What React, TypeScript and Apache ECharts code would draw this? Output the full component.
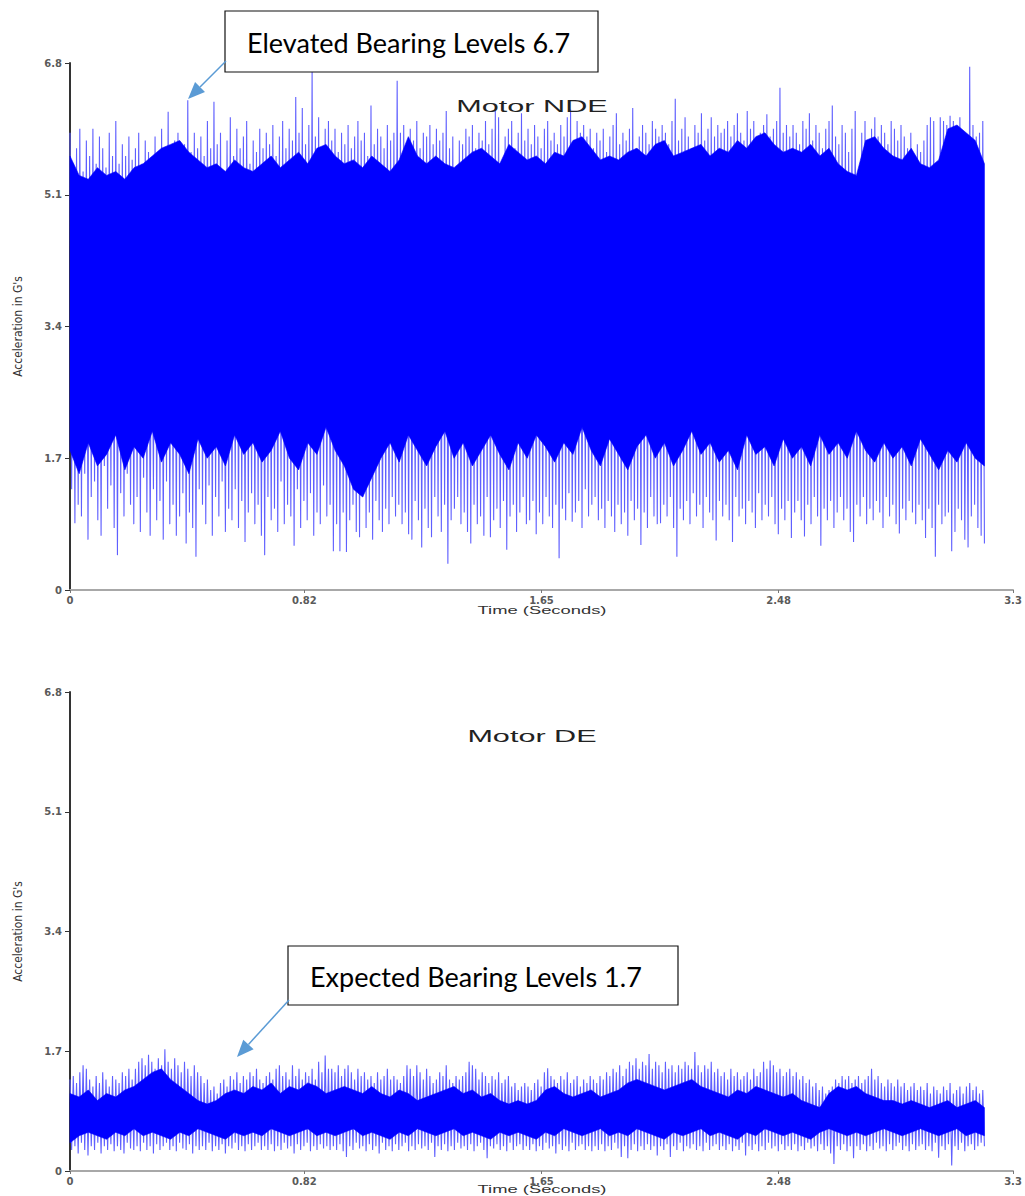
import React, { useEffect, useRef } from "react";
import * as echarts from "echarts";

// ---------------- axis definitions ----------------
const timeTicks = [0, 0.82, 1.65, 2.48, 3.3];
const timeMax = 3.3;
const accelMax = 6.8;
const accelStep = 1.7;
const recordLength = 3.2; // seconds of recorded waveform

// ---------------- Motor NDE (top) ----------------
// local maxima of the waveform (successive swings)
const ndePeaks = [
  5.9, 5.5, 5.7, 5.95, 5.4, 5.8, 5.6, 5.95, 5.5, 5.85, 5.7, 5.45, 5.9, 5.6, 6.05, 5.5, 5.75, 5.6, 5.85, 5.55,
  5.7, 5.9, 5.5, 5.8, 5.65, 4.5, 5.85, 5.6, 5.95, 5.7, 6.17, 5.6, 5.8, 5.9, 5.5, 5.75, 6.32, 5.65, 5.9, 5.7,
  5.85, 5.6, 6.05, 5.7, 6.3, 5.75, 5.9, 4.4, 5.8, 6.1, 5.6, 5.95, 5.7, 5.85, 6.05, 5.5, 5.8, 5.65, 5.95, 5.7,
  5.9, 5.75, 6.0, 5.6, 5.85, 6.05, 5.7, 5.95, 5.8, 6.36, 5.9, 6.22, 5.75, 6.0, 6.7, 5.85, 6.1, 5.7, 5.95, 6.05,
  5.8, 5.95, 5.65, 5.9, 5.75, 6.0, 5.7, 5.85, 6.05, 5.8, 5.9, 5.6, 6.25, 5.75, 5.95, 5.85, 5.7, 6.0, 5.8, 5.9,
  6.57, 5.9, 6.0, 5.75, 5.95, 5.8, 6.05, 5.7, 5.9, 5.85, 6.0, 5.75, 5.95, 5.8, 5.9, 6.18, 5.7, 5.85, 4.5, 5.8,
  5.75, 5.95, 5.85, 6.0, 5.7, 5.9, 5.8, 6.05, 5.75, 5.95, 6.18, 6.1, 4.6, 5.85, 5.95, 6.05, 5.7, 5.9, 6.15, 5.8,
  5.95, 5.75, 6.0, 5.85, 5.7, 5.95, 6.05, 5.8, 5.9, 5.75, 6.0, 5.85, 6.1, 6.2, 4.5, 6.05, 5.9, 6.0, 5.85, 5.95,
  5.7, 5.9, 5.8, 5.95, 5.65, 5.85, 6.0, 6.15, 5.75, 5.9, 5.8, 5.95, 6.22, 5.7, 5.85, 6.0, 5.9, 5.75, 6.05, 5.95,
  5.85, 6.0, 5.9, 5.75, 6.05, 6.34, 5.8, 5.95, 6.1, 5.85, 5.7, 6.0, 5.9, 6.15, 5.8, 5.95, 6.1, 5.85, 6.0, 5.9,
  5.95, 6.05, 5.85, 6.0, 6.15, 5.9, 5.8, 6.18, 5.95, 6.05, 4.4, 5.9, 6.0, 6.14, 5.85, 5.95, 6.05, 6.48, 5.9, 6.0,
  5.85, 6.0, 5.9, 5.75, 6.05, 5.95, 6.15, 5.8, 6.0, 5.9, 5.7, 5.95, 6.05, 6.25, 5.85, 5.75, 6.0, 5.9, 5.65, 5.95,
  6.18, 4.2, 5.9, 6.05, 5.8, 5.95, 6.1, 5.85, 6.0, 5.9, 5.75, 6.05, 5.95, 5.8, 6.0, 5.85, 5.7, 5.9, 5.6, 5.75,
  5.65, 5.8, 6.0, 6.1, 6.05, 3.9, 6.1, 6.05, 6.0, 6.12, 6.05, 5.95, 6.1, 5.9, 3.9, 6.75, 6.0, 5.85, 5.9, 6.05,
];
// local minima following each peak
const ndeTroughs = [
  1.3, 0.86, 1.1, 0.95, 1.5, 0.65, 1.2, 1.4, 0.9, 0.7, 1.6, 1.05, 1.35, 0.8, 0.45, 1.25, 0.95, 1.5, 1.1, 0.85,
  1.2, 0.75, 1.45, 1.0, 0.7, 1.3, 0.9, 1.15, 0.65, 1.4, 0.85, 1.1, 0.7, 0.95, 1.25, 0.6, 1.0, 0.8, 0.43, 1.3,
  1.1, 0.85, 1.35, 0.7, 1.2, 0.95, 1.4, 0.75, 1.05, 0.9, 1.3, 0.8, 1.15, 0.62, 1.0, 1.25, 0.85, 1.1, 0.7, 0.45,
  1.2, 0.9, 1.05, 0.75, 1.4, 0.85, 1.1, 0.95, 0.57, 1.3, 0.8, 1.15, 0.9, 1.25, 0.7, 1.0, 0.85, 1.35, 0.95, 1.1,
  0.5, 0.85, 0.5, 1.0, 0.49, 0.9, 1.1, 0.75, 0.68, 1.2, 0.8, 1.0, 0.65, 1.15, 0.9, 0.75, 1.05, 0.85, 1.2, 0.95,
  1.1, 0.85, 1.0, 0.72, 0.65, 1.15, 0.9, 0.55, 1.05, 0.8, 0.68, 1.2, 0.95, 0.75, 1.1, 0.34, 0.9, 1.05, 1.2, 0.85,
  1.0, 0.75, 0.6, 1.1, 0.85, 0.95, 0.7, 1.2, 0.68, 0.9, 1.05, 0.8, 1.15, 0.52, 0.95, 1.1, 0.75, 1.0, 1.2, 0.85,
  0.9, 1.15, 0.72, 1.0, 0.85, 1.2, 0.95, 0.8, 1.1, 0.41, 1.05, 0.9, 1.25, 0.88, 1.0, 1.15, 0.8, 1.3, 0.95, 1.1,
  1.2, 0.9, 1.05, 0.8, 1.15, 0.95, 0.75, 1.1, 0.85, 1.0, 0.7, 1.15, 0.9, 1.05, 0.58, 1.0, 0.8, 1.2, 0.95, 0.85,
  0.86, 1.1, 0.95, 1.2, 0.8, 0.43, 1.05, 0.9, 1.15, 0.85, 1.25, 0.95, 1.1, 0.8, 1.2, 1.0, 0.9, 0.64, 1.15, 0.95,
  1.1, 0.9, 0.62, 1.2, 0.95, 1.05, 0.85, 1.15, 1.0, 0.8, 1.25, 0.9, 1.1, 0.95, 1.2, 0.85, 0.72, 1.05, 0.9, 1.15,
  0.67, 1.0, 1.15, 0.9, 0.69, 1.1, 0.85, 1.2, 0.95, 0.57, 1.05, 0.9, 1.15, 0.8, 1.0, 1.2, 0.9, 1.05, 0.75, 0.62,
  1.1, 0.95, 1.2, 0.85, 1.05, 0.9, 1.15, 1.0, 0.8, 1.2, 0.95, 1.1, 0.85, 0.73, 1.05, 0.9, 1.15, 1.0, 0.85, 1.1,
  0.9, 0.67, 1.05, 0.8, 0.43, 1.1, 0.85, 0.95, 1.0, 0.5, 0.75, 1.05, 0.9, 0.65, 0.55, 0.95, 1.1, 0.8, 0.7, 0.6,
];
// upper / lower edge of the dense (solid) part of the waveform
const ndeBodyTop = [
  5.6, 5.35, 5.3, 5.45, 5.35, 5.4, 5.3, 5.45, 5.5, 5.6,
  5.7, 5.75, 5.8, 5.65, 5.55, 5.45, 5.5, 5.4, 5.55, 5.45,
  5.4, 5.5, 5.6, 5.45, 5.55, 5.65, 5.5, 5.7, 5.75, 5.6,
  5.5, 5.55, 5.45, 5.6, 5.5, 5.4, 5.55, 5.85, 5.6, 5.5,
  5.6, 5.5, 5.45, 5.55, 5.65, 5.7, 5.6, 5.5, 5.75, 5.65,
  5.55, 5.6, 5.5, 5.65, 5.6, 5.8, 5.85, 5.7, 5.55, 5.6,
  5.55, 5.65, 5.7, 5.6, 5.75, 5.8, 5.6, 5.65, 5.7, 5.75,
  5.6, 5.7, 5.65, 5.8, 5.7, 5.85, 5.9, 5.75, 5.65, 5.7,
  5.65, 5.75, 5.6, 5.7, 5.5, 5.4, 5.35, 5.8, 5.85, 5.7,
  5.6, 5.55, 5.7, 5.5, 5.45, 5.55, 5.95, 6.0, 5.9, 5.8, 5.5,
];
const ndeBodyBottom = [
  1.8, 1.5, 1.9, 1.6, 1.75, 2.0, 1.55, 1.85, 1.7, 2.05,
  1.65, 1.9, 1.75, 1.5, 1.95, 1.7, 1.85, 1.6, 2.0, 1.75,
  1.9, 1.65, 1.8, 2.05, 1.7, 1.55, 1.9, 1.75, 2.1, 1.8,
  1.6, 1.3, 1.2, 1.45, 1.7, 1.9, 1.65, 2.0, 1.8, 1.6,
  1.85, 2.05, 1.7, 1.9, 1.6, 1.8, 2.0, 1.75, 1.55, 1.9,
  1.7, 2.0, 1.85, 1.65, 1.9, 1.75, 2.1, 1.8, 1.6, 1.95,
  1.75, 1.55, 1.85, 2.0, 1.7, 1.9, 1.6, 1.8, 2.05, 1.75,
  1.9, 1.65, 1.8, 1.55, 2.0, 1.75, 1.85, 1.6, 1.95, 1.7,
  1.85, 1.6, 2.0, 1.75, 1.9, 1.7, 2.05, 1.8, 1.65, 1.9,
  1.7, 1.85, 1.6, 1.95, 1.75, 1.55, 1.8, 1.65, 1.9, 1.7, 1.6,
];

// ---------------- Motor DE (bottom) ----------------
const dePeaks = [
  1.3, 1.35, 1.25, 1.4, 1.5, 1.45, 1.3, 1.2, 1.35, 1.25, 1.4, 1.3, 1.2, 1.35, 1.3, 1.25, 1.4, 1.35, 1.45, 1.3,
  1.45, 1.55, 1.6, 1.5, 1.65, 1.55, 1.45, 1.6, 1.5, 1.73, 1.55, 1.45, 1.6, 1.5, 1.4, 1.55, 1.45, 1.35, 1.5, 1.4,
  1.35, 1.25, 1.3, 1.15, 1.2, 1.1, 1.25, 1.3, 1.2, 1.35, 1.3, 1.4, 1.25, 1.35, 1.3, 1.4, 1.35, 1.45, 1.3, 1.25,
  1.35, 1.4, 1.3, 1.45, 1.5, 1.35, 1.4, 1.3, 1.5, 1.35, 1.45, 1.3, 1.4, 1.35, 1.45, 1.3, 1.55, 1.4, 1.64, 1.45,
  1.45, 1.4, 1.5, 1.35, 1.45, 1.5, 1.4, 1.3, 1.45, 1.35, 1.4, 1.3, 1.35, 1.25, 1.4, 1.3, 1.35, 1.45, 1.3, 1.35,
  1.3, 1.25, 1.35, 1.5, 1.45, 1.35, 1.5, 1.4, 1.3, 1.45, 1.35, 1.25, 1.3, 1.4, 1.35, 1.5, 1.3, 1.25, 1.35, 1.3,
  1.35, 1.4, 1.55, 1.5, 1.45, 1.3, 1.4, 1.35, 1.25, 1.35, 1.3, 1.4, 1.25, 1.3, 1.35, 1.2, 1.25, 1.15, 1.2, 1.25,
  1.2, 1.15, 1.25, 1.3, 1.2, 1.4, 1.46, 1.35, 1.3, 1.25, 1.35, 1.3, 1.4, 1.25, 1.3, 1.35, 1.2, 1.3, 1.25, 1.35,
  1.3, 1.25, 1.35, 1.3, 1.4, 1.35, 1.45, 1.4, 1.5, 1.35, 1.45, 1.55, 1.5, 1.6, 1.45, 1.55, 1.5, 1.66, 1.45, 1.55,
  1.5, 1.4, 1.55, 1.45, 1.5, 1.4, 1.5, 1.45, 1.55, 1.5, 1.45, 1.69, 1.5, 1.4, 1.5, 1.45, 1.55, 1.4, 1.45, 1.35,
  1.4, 1.3, 1.45, 1.35, 1.4, 1.3, 1.35, 1.4, 1.3, 1.45, 1.35, 1.4, 1.55, 1.45, 1.57, 1.5, 1.4, 1.45, 1.35, 1.4,
  1.45, 1.35, 1.4, 1.3, 1.35, 1.25, 1.3, 1.2, 1.25, 1.15, 1.2, 1.1, 1.15, 1.2, 1.3, 1.25, 1.35, 1.3, 1.35, 1.25,
  1.3, 1.35, 1.25, 1.3, 1.35, 1.45, 1.3, 1.35, 1.25, 1.2, 1.3, 1.25, 1.2, 1.3, 1.2, 1.25, 1.15, 1.2, 1.25, 1.15,
  1.2, 1.15, 1.25, 1.1, 1.2, 1.15, 1.1, 1.2, 1.15, 1.25, 1.1, 1.15, 1.2, 1.1, 1.2, 1.25, 1.15, 1.2, 1.1, 1.15,
];
const deTroughs = [
  0.3, 0.35, 0.25, 0.4, 0.3, 0.22, 0.35, 0.3, 0.4, 0.25, 0.35, 0.3, 0.38, 0.28, 0.35, 0.3, 0.25, 0.4, 0.32, 0.3,
  0.35, 0.28, 0.4, 0.3, 0.35, 0.25, 0.38, 0.3, 0.35, 0.4, 0.3, 0.35, 0.28, 0.4, 0.32, 0.3, 0.38, 0.25, 0.35, 0.3,
  0.35, 0.3, 0.4, 0.28, 0.35, 0.3, 0.38, 0.25, 0.35, 0.32, 0.4, 0.3, 0.35, 0.28, 0.38, 0.3, 0.35, 0.4, 0.3, 0.35,
  0.3, 0.38, 0.28, 0.35, 0.3, 0.4, 0.32, 0.35, 0.25, 0.38, 0.3, 0.35, 0.4, 0.28, 0.35, 0.3, 0.38, 0.32, 0.35, 0.3,
  0.35, 0.3, 0.38, 0.28, 0.2, 0.35, 0.3, 0.4, 0.32, 0.35, 0.28, 0.38, 0.3, 0.35, 0.25, 0.4, 0.3, 0.35, 0.28, 0.38,
  0.3, 0.35, 0.4, 0.28, 0.35, 0.3, 0.38, 0.32, 0.35, 0.3, 0.4, 0.2, 0.35, 0.3, 0.38, 0.28, 0.35, 0.3, 0.4, 0.32,
  0.35, 0.3, 0.38, 0.28, 0.35, 0.4, 0.3, 0.18, 0.35, 0.32, 0.38, 0.3, 0.35, 0.28, 0.4, 0.3, 0.35, 0.38, 0.3, 0.35,
  0.3, 0.38, 0.28, 0.35, 0.3, 0.4, 0.32, 0.35, 0.25, 0.38, 0.3, 0.35, 0.28, 0.4, 0.3, 0.35, 0.38, 0.3, 0.35, 0.28,
  0.35, 0.3, 0.38, 0.28, 0.35, 0.3, 0.4, 0.32, 0.2, 0.35, 0.18, 0.3, 0.38, 0.28, 0.35, 0.3, 0.38, 0.3, 0.35, 0.22,
  0.35, 0.3, 0.38, 0.2, 0.35, 0.3, 0.4, 0.28, 0.35, 0.32, 0.38, 0.3, 0.35, 0.28, 0.4, 0.3, 0.35, 0.38, 0.3, 0.35,
  0.3, 0.38, 0.28, 0.35, 0.3, 0.4, 0.22, 0.35, 0.3, 0.38, 0.28, 0.35, 0.3, 0.4, 0.32, 0.35, 0.28, 0.38, 0.3, 0.35,
  0.3, 0.38, 0.28, 0.35, 0.3, 0.4, 0.32, 0.35, 0.28, 0.38, 0.3, 0.35, 0.25, 0.1, 0.35, 0.3, 0.38, 0.28, 0.35, 0.18,
  0.35, 0.3, 0.38, 0.28, 0.35, 0.3, 0.4, 0.32, 0.35, 0.28, 0.38, 0.3, 0.35, 0.4, 0.3, 0.35, 0.28, 0.38, 0.3, 0.35,
  0.38, 0.3, 0.35, 0.28, 0.4, 0.19, 0.35, 0.3, 0.38, 0.08, 0.35, 0.3, 0.4, 0.28, 0.35, 0.38, 0.3, 0.35, 0.4, 0.35,
];
const deBodyTop = [
  1.1, 1.05, 1.15, 1.0, 1.1, 1.05, 1.15, 1.2, 1.3, 1.4,
  1.45, 1.3, 1.2, 1.1, 1.0, 0.95, 1.0, 1.1, 1.15, 1.1,
  1.2, 1.15, 1.25, 1.1, 1.2, 1.15, 1.25, 1.2, 1.1, 1.15,
  1.2, 1.15, 1.1, 1.2, 1.1, 1.05, 1.15, 1.1, 1.0, 1.05,
  1.1, 1.15, 1.2, 1.1, 1.15, 1.05, 1.1, 1.0, 0.95, 1.0,
  0.95, 1.0, 1.15, 1.2, 1.1, 1.05, 1.1, 1.15, 1.05, 1.1,
  1.15, 1.25, 1.3, 1.25, 1.2, 1.15, 1.2, 1.25, 1.3, 1.2,
  1.15, 1.1, 1.05, 1.15, 1.1, 1.2, 1.15, 1.1, 1.05, 1.1,
  1.0, 0.95, 0.9, 1.1, 1.2, 1.15, 1.2, 1.1, 1.05, 1.0,
  1.0, 0.95, 1.0, 0.95, 0.9, 0.95, 1.0, 0.9, 0.95, 1.0, 0.9,
];
const deBodyBottom = [
  0.4, 0.5, 0.55, 0.5, 0.45, 0.55, 0.5, 0.6, 0.5, 0.55,
  0.5, 0.45, 0.55, 0.5, 0.6, 0.55, 0.5, 0.45, 0.55, 0.5,
  0.55, 0.5, 0.6, 0.55, 0.5, 0.55, 0.6, 0.5, 0.55, 0.5,
  0.55, 0.6, 0.5, 0.55, 0.5, 0.45, 0.55, 0.5, 0.6, 0.55,
  0.5, 0.55, 0.6, 0.5, 0.55, 0.5, 0.45, 0.55, 0.5, 0.55,
  0.5, 0.45, 0.55, 0.5, 0.6, 0.55, 0.5, 0.55, 0.6, 0.5,
  0.55, 0.5, 0.6, 0.55, 0.5, 0.45, 0.55, 0.5, 0.55, 0.6,
  0.5, 0.55, 0.5, 0.45, 0.55, 0.5, 0.6, 0.55, 0.5, 0.55,
  0.5, 0.45, 0.55, 0.6, 0.55, 0.5, 0.55, 0.5, 0.55, 0.6,
  0.55, 0.5, 0.55, 0.6, 0.55, 0.5, 0.55, 0.6, 0.5, 0.55, 0.5,
];

// ---------------- texts ----------------
const chartTitles = ["Motor NDE", "Motor DE"];
const xAxisTitle = "Time (Seconds)";
const yAxisTitle = "Acceleration in G's";
const notes = ["Elevated Bearing Levels 6.7", "Expected Bearing Levels 1.7"];

// ---------------- helpers ----------------
function waveform(peaks: number[], troughs: number[]) {
  const vals: number[] = [];
  peaks.forEach((p, i) => {
    vals.push(p);
    vals.push(troughs[i]);
  });
  const dt = recordLength / (vals.length - 1);
  return vals.map((v, k) => [k * dt, v]);
}
function bodyRows(bottom: number[], top: number[]) {
  const dt = recordLength / (top.length - 1);
  return top.map((v, j) => [j * dt, bottom[j], v]);
}

const grids = [
  { left: 70, top: 63, width: 943, height: 527 },
  { left: 70, top: 692, width: 943, height: 479 },
];

function xAxis(gridIndex: number) {
  return {
    type: "value",
    gridIndex,
    min: 0,
    max: timeMax,
    axisLine: { show: true, onZero: false, lineStyle: { color: "#a8a8a8", width: 2 } },
    axisTick: { show: true, customValues: timeTicks, length: 3, lineStyle: { color: "#777" } },
    axisLabel: {
      customValues: timeTicks,
      margin: 5,
      color: "#5a5a5a",
      fontSize: 10,
      fontWeight: "bold",
      fontFamily: "DejaVu Sans",
      showMaxLabel: true,
      showMinLabel: true,
    },
    splitLine: { show: false },
  };
}
function yAxis(gridIndex: number) {
  return {
    type: "value",
    gridIndex,
    min: 0,
    max: accelMax,
    interval: accelStep,
    name: yAxisTitle,
    nameLocation: "middle",
    nameGap: 46,
    nameRotate: 90,
    nameTextStyle: { fontSize: 12, color: "#333", fontFamily: "Liberation Sans Narrow, DejaVu Sans Condensed, sans-serif" },
    axisLine: { show: true, lineStyle: { color: "#333", width: 2 } },
    axisTick: { show: true, length: 5, lineStyle: { color: "#333" } },
    axisLabel: { margin: 8, color: "#5a5a5a", fontSize: 10, fontWeight: "bold", fontFamily: "DejaVu Sans" },
    splitLine: { show: false },
  };
}

function chartSeries(g: number, peaks: number[], troughs: number[], top: number[], bottom: number[]) {
  const rows = bodyRows(bottom, top);
  return [
    {
      type: "line",
      xAxisIndex: g,
      yAxisIndex: g,
      data: waveform(peaks, troughs),
      symbol: "none",
      showSymbol: false,
      silent: true,
      z: 2,
      lineStyle: { color: "#5f5fff", width: 1.1 },
    },
    {
      type: "custom",
      xAxisIndex: g,
      yAxisIndex: g,
      data: rows,
      encode: { x: 0, y: [1, 2] },
      silent: true,
      z: 3,
      renderItem: (params: any, api: any) => {
        if (params.dataIndex !== 0) return null;
        const pts: number[][] = [];
        for (let j = 0; j < rows.length; j++) pts.push(api.coord([rows[j][0], rows[j][2]]));
        for (let j = rows.length - 1; j >= 0; j--) pts.push(api.coord([rows[j][0], rows[j][1]]));
        return {
          type: "polygon",
          shape: { points: pts },
          style: { fill: "#0000ff", stroke: "#0000ff", lineWidth: 0.6 },
        };
      },
    },
  ];
}

function arrow(x1: number, y1: number, x2: number, y2: number) {
  const dx = x2 - x1;
  const dy = y2 - y1;
  const len = Math.sqrt(dx * dx + dy * dy);
  const ux = dx / len;
  const uy = dy / len;
  const headLen = 17;
  const headHalf = 7;
  const bx = x2 - ux * headLen;
  const by = y2 - uy * headLen;
  const color = "#5b9bd5";
  return [
    { type: "line", shape: { x1, y1, x2: bx, y2: by }, style: { stroke: color, lineWidth: 1.5 }, z: 10 },
    {
      type: "polygon",
      shape: {
        points: [
          [x2, y2],
          [bx - uy * headHalf, by + ux * headHalf],
          [bx + uy * headHalf, by - ux * headHalf],
        ],
      },
      style: { fill: color },
      z: 10,
    },
  ];
}

function noteBox(x: number, y: number, w: number, h: number, text: string, tx: number) {
  return [
    { type: "rect", shape: { x, y, width: w, height: h }, style: { fill: "#fff", stroke: "#111", lineWidth: 1.2 }, z: 10 },
    {
      type: "text",
      x: tx,
      y: y + h / 2 + 1,
      style: { text, fontSize: 27, fontFamily: "Lato, Carlito, sans-serif", fill: "#000", verticalAlign: "middle", align: "left" },
      z: 11,
    },
  ];
}

function stretchedText(text: string, cx: number, cy: number, size: number, scaleX: number, color: string) {
  return {
    type: "text",
    x: cx,
    y: cy,
    scaleX,
    style: { text, fontSize: size, fontFamily: "Liberation Sans, Arial, sans-serif", fill: color, align: "center", verticalAlign: "middle" },
    z: 5,
  };
}

export default function App() {
  const ref = useRef<HTMLDivElement>(null);
  useEffect(() => {
    document.body.style.margin = "0";
    const chart = echarts.init(ref.current as HTMLDivElement, null, { renderer: "svg" });
    const option = {
      animation: false,
      backgroundColor: "#ffffff",
      grid: grids,
      xAxis: [xAxis(0), xAxis(1)],
      yAxis: [yAxis(0), yAxis(1)],
      series: [
        ...chartSeries(0, ndePeaks, ndeTroughs, ndeBodyTop, ndeBodyBottom),
        ...chartSeries(1, dePeaks, deTroughs, deBodyTop, deBodyBottom),
      ],
      graphic: [
        stretchedText(chartTitles[0], 532, 106, 17, 1.8, "#222"),
        stretchedText(chartTitles[1], 532, 736, 17, 1.8, "#222"),
        stretchedText(xAxisTitle, 542, 610, 11, 1.67, "#333"),
        stretchedText(xAxisTitle, 542, 1189, 11, 1.67, "#333"),
        ...noteBox(225, 11, 373, 61, notes[0], 247),
        ...arrow(226, 61, 188, 99),
        ...noteBox(288, 946, 390, 59, notes[1], 310),
        ...arrow(289, 1000, 237, 1057),
      ],
    };
    chart.setOption(option as any);
    return () => chart.dispose();
  }, []);
  return <div ref={ref} style={{ width: 1025, height: 1196 }} />;
}
